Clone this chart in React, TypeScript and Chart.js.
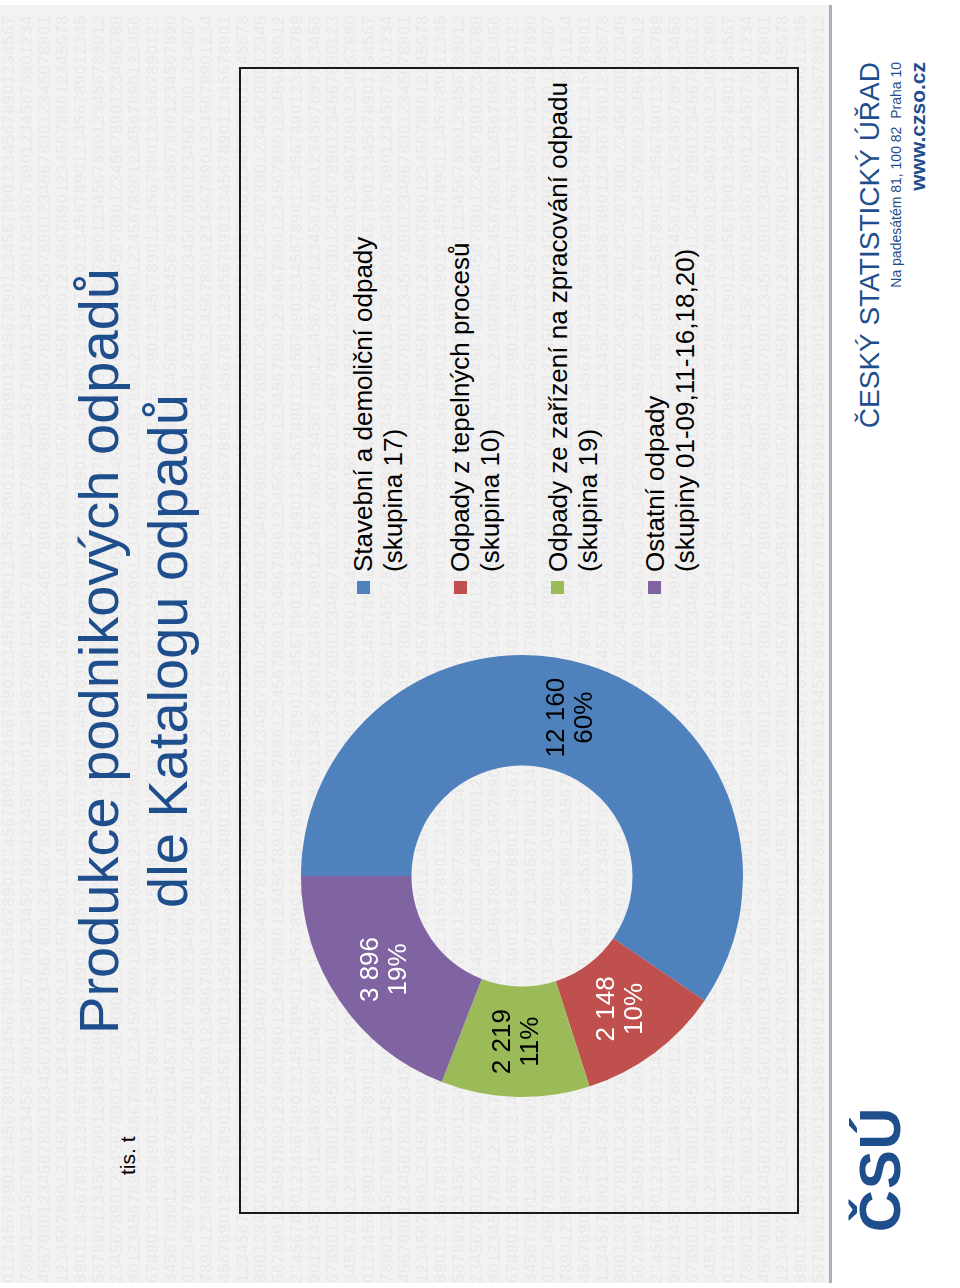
import React, { useEffect, useRef } from "react";
import { Chart, registerables } from "chart.js";

Chart.register(...registerables);

// ---- data ----
const titleLines = ["Produkce podnikových odpadů", "dle Katalogu odpadů"];
const unitLabel = "tis. t";
const categories = [
  "Stavební a demoliční odpady",
  "Odpady z tepelných procesů",
  "Odpady ze zařízení na zpracování odpadu",
  "Ostatní odpady",
];
const groupLabels = [
  "(skupina 17)",
  "(skupina 10)",
  "(skupina 19)",
  "(skupiny 01-09,11-16,18,20)",
];
const values = [12160, 2148, 2219, 3896];
const percentLabels = ["60%", "10%", "11%", "19%"];
const sliceColors = ["#4F81BD", "#C0504D", "#9BBB59", "#8064A2"];
const labelColors = ["#000000", "#FFFFFF", "#000000", "#FFFFFF"];
const orgName = "ČESKÝ STATISTICKÝ ÚŘAD";
const orgAddress = "Na padesátém 81, 100 82  Praha 10";
const orgWeb = "www.czso.cz";
const logoText = "ČSÚ";

const FONT = '"Liberation Sans", Arial, Helvetica, sans-serif';
const BLUE = "#1F4E8C";

const fmt = (v: number) => String(v).replace(/\B(?=(\d{3})+(?!\d))/g, " ");

const labelPlugin = {
  id: "sliceLabels",
  afterDatasetsDraw(chart: any) {
    const ctx = chart.ctx;
    const meta = chart.getDatasetMeta(0);
    meta.data.forEach((arc: any, i: number) => {
      const p = arc.tooltipPosition();
      ctx.save();
      ctx.font = `26px ${FONT}`;
      ctx.fillStyle = labelColors[i];
      ctx.textAlign = "center";
      ctx.textBaseline = "middle";
      ctx.fillText(fmt(values[i]), p.x, p.y - 14);
      ctx.fillText(percentLabels[i], p.x, p.y + 14);
      ctx.restore();
    });
  },
};

function Watermark() {
  const digits = "0123456789";
  const rows: string[] = [];
  for (let r = 0; r < 46; r++) {
    let s = "";
    for (let k = 0; k < 128; k++) s += digits[(k + r * 7) % 10];
    rows.push(s);
  }
  return (
    <div
      style={{
        position: "absolute",
        left: 0,
        top: 0,
        width: "100%",
        height: "100%",
        overflow: "hidden",
        fontFamily: FONT,
        fontWeight: "bold",
        fontSize: 17,
        lineHeight: "18px",
        letterSpacing: "0.45px",
        color: "rgba(0,0,0,0.045)",
        whiteSpace: "pre",
      }}
    >
      {rows.map((r, i) => (
        <div key={i}>{r}</div>
      ))}
    </div>
  );
}

export default function App() {
  const canvasRef = useRef<HTMLCanvasElement | null>(null);

  useEffect(() => {
    if (!canvasRef.current) return;
    const chart = new Chart(canvasRef.current, {
      type: "doughnut",
      data: {
        labels: categories,
        datasets: [
          {
            data: values,
            backgroundColor: sliceColors,
            borderWidth: 0,
            hoverOffset: 0,
          },
        ],
      },
      options: {
        responsive: false,
        animation: false,
        devicePixelRatio: 1,
        cutout: "50%",
        rotation: 0,
        layout: { padding: 0 },
        events: [],
        plugins: {
          legend: { display: false },
          tooltip: { enabled: false },
        },
      },
      plugins: [labelPlugin],
    } as any);
    return () => chart.destroy();
  }, []);

  const abs = (o: React.CSSProperties): React.CSSProperties => ({
    position: "absolute",
    margin: 0,
    whiteSpace: "pre",
    ...o,
  });

  return (
    <div
      style={{
        position: "fixed",
        left: 0,
        top: 0,
        width: 960,
        height: 1288,
        overflow: "hidden",
        background: "#ffffff",
      }}
    >
      <div
        style={{
          position: "absolute",
          left: 0,
          top: 0,
          width: 1288,
          height: 960,
          transformOrigin: "0 0",
          transform: "translate(0px, 1288px) rotate(-90deg)",
          fontFamily: FONT,
        }}
      >
        {/* grey panel with watermark */}
        <div
          style={abs({
            left: 5,
            top: 0,
            width: 1278,
            height: 829,
            background: "#f2f2f2",
            overflow: "hidden",
          })}
        >
          <Watermark />
        </div>
        {/* separator line */}
        <div style={abs({ left: 5, top: 829, width: 1278, height: 3, background: "#a9b0bd" })} />

        {/* title */}
        {titleLines.map((t, i) => (
          <div
            key={i}
            style={abs({
              left: 0,
              width: 1274,
              top: i === 0 ? 70.6 : 139.6,
              fontSize: 56,
              lineHeight: "56px",
              color: BLUE,
              textAlign: "center",
            })}
          >
            {t}
          </div>
        ))}

        {/* unit */}
        <div style={abs({ left: 113, top: 117, fontSize: 21, lineHeight: "21px", color: "#000" })}>
          {unitLabel}
        </div>

        {/* chart frame */}
        <div
          style={abs({
            left: 74,
            top: 239,
            width: 1147,
            height: 560,
            border: "2px solid #1a1a1a",
            boxSizing: "border-box",
          })}
        />

        {/* doughnut */}
        <canvas
          ref={canvasRef}
          width={442}
          height={442}
          style={{ position: "absolute", left: 190.5, top: 300.5, width: 442, height: 442, display: "block" }}
        />

        {/* legend */}
        {categories.map((c, i) => {
          const cy = 363 + i * 97.3;
          return (
            <React.Fragment key={i}>
              <div
                style={abs({
                  left: 694,
                  top: cy - 6.5,
                  width: 13,
                  height: 13,
                  background: sliceColors[i],
                })}
              />
              <div
                style={abs({
                  left: 716,
                  top: cy - 15,
                  fontSize: 26,
                  lineHeight: "30px",
                  color: "#000",
                })}
              >
                <div>{c}</div>
                <div>{groupLabels[i]}</div>
              </div>
            </React.Fragment>
          );
        })}

        {/* footer: logo and organisation */}
        <div
          style={abs({
            left: 56,
            top: 851,
            fontSize: 58,
            lineHeight: "58px",
            fontWeight: "bold",
            color: BLUE,
            letterSpacing: 1,
          })}
        >
          {logoText}
        </div>
        <div
          style={abs({
            right: 62,
            top: 856.3,
            fontSize: 28,
            lineHeight: "28px",
            color: BLUE,
          })}
        >
          {orgName}
        </div>
        <div
          style={abs({
            right: 62,
            top: 889,
            fontSize: 14,
            lineHeight: "14px",
            color: BLUE,
          })}
        >
          {orgAddress}
        </div>
        <div
          style={abs({
            right: 62,
            top: 907,
            fontSize: 21,
            lineHeight: "21px",
            fontWeight: "bold",
            color: BLUE,
          })}
        >
          {orgWeb}
        </div>
      </div>
    </div>
  );
}
